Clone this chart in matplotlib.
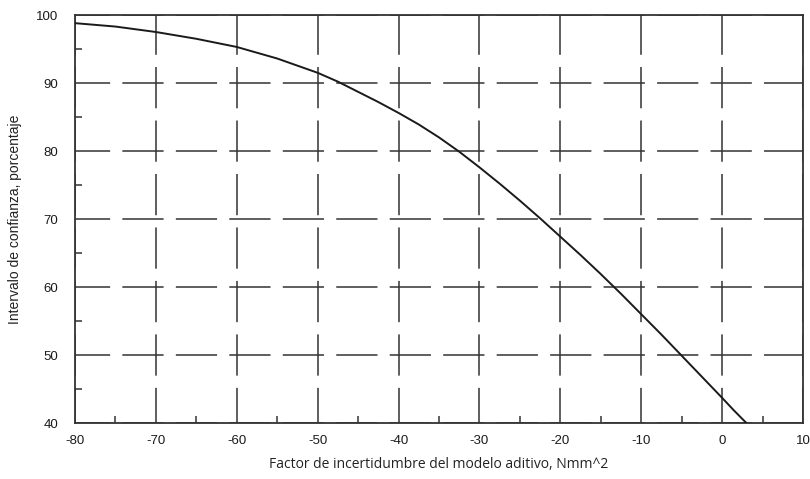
import matplotlib
matplotlib.use("Agg")
import matplotlib.pyplot as plt
from matplotlib.ticker import MultipleLocator

# Data
factor = [-80, -75, -70, -65, -60, -55, -50, -47.5, -45, -42.5, -40, -37.5, -35,
          -32.5, -30, -27.5, -25, -22.5, -20, -17.5, -15, -12.5, -10, -7.5, -5,
          -2.5, 0, 1.5, 3]
confianza = [98.8, 98.3, 97.5, 96.5, 95.3, 93.6, 91.5, 90.2, 88.7, 87.2, 85.6, 83.9, 82.0,
             79.9, 77.6, 75.2, 72.7, 70.1, 67.4, 64.7, 61.9, 59.0, 56.0, 53.0, 49.9,
             46.8, 43.7, 41.8, 40.0]

xticks = [-80, -70, -60, -50, -40, -30, -20, -10, 0, 10]
yticks = [40, 50, 60, 70, 80, 90, 100]

fig = plt.figure(figsize=(8.10, 4.79), dpi=100)
ax = fig.add_axes([75/810, 1 - 423/479, (803 - 75)/810, (423 - 15)/479])

ax.plot(factor, confianza, color="#1a1a1a", lw=1.4, zorder=3)

ax.set_xlim(-80, 10)
ax.set_ylim(40, 100)
ax.set_xticks(xticks)
ax.set_yticks(yticks)
ax.set_xticklabels([str(t) for t in xticks])
ax.set_yticklabels([str(t) for t in yticks])
ax.xaxis.set_minor_locator(MultipleLocator(5))
ax.yaxis.set_minor_locator(MultipleLocator(5))

ax.tick_params(axis="x", which="major", length=0, pad=9, labelsize=9.5,
               labelcolor="#1a1a1a")
ax.tick_params(axis="y", which="major", length=0, pad=12, labelsize=9.5,
               labelcolor="#1a1a1a")
ax.tick_params(axis="both", which="minor", direction="in", length=5, width=1.1,
               color="#333333")
for lab in ax.get_xticklabels() + ax.get_yticklabels():
    lab.set_fontfamily("Liberation Sans")

ax.grid(True, which="major", color="#333333", linewidth=1.1,
        linestyle=(4, (27, 8)))

for s in ax.spines.values():
    s.set_color("#333333")
    s.set_linewidth(1.3)

ax.set_xlabel("Factor de incertidumbre del modelo aditivo, Nmm^2",
              fontsize=10, family="Open Sans", color="#222222", labelpad=7)
ax.set_ylabel("Intervalo de confianza, porcentaje",
              fontsize=10, family=["Liberation Sans Narrow", "Liberation Sans"],
              color="#222222", labelpad=10)

fig.savefig("out.png", dpi=100)
